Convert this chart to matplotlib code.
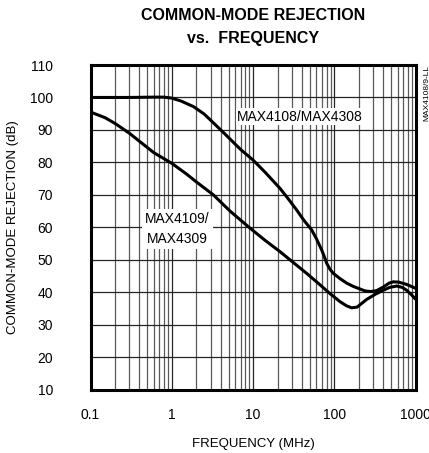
import numpy as np
import matplotlib
matplotlib.use("Agg")
import matplotlib.pyplot as plt
from matplotlib.ticker import FixedLocator, NullFormatter

plt.rcParams['font.family'] = ['Liberation Sans', 'DejaVu Sans']

# MAX4108/MAX4308 curve (MHz, dB)
f_4108 = [0.1, 0.3, 0.6, 0.8, 1.0, 1.3, 1.84, 2.5, 3, 4, 5.2, 7, 10, 14, 21.4, 27, 34.4,
          42, 52.5, 60, 69.8, 75, 80.4, 88, 97, 117, 141.6, 170, 206, 238, 280, 331,
          400, 470, 531, 620, 774, 1000]
cmr_4108 = [100, 100, 100.1, 100.1, 99.8, 98.9, 97.2, 94.9, 93, 90, 87.2, 84, 80.7, 77,
            72, 68.8, 65.3, 62.2, 59.2, 56.5, 53, 51, 48.9, 47.1, 45.8, 44.2, 42.8,
            41.8, 41, 40.4, 40.2, 40.5, 41.6, 42.8, 43.2, 43.1, 42.4, 41.2]

# MAX4109/MAX4309 curve (MHz, dB)
f_4109 = [0.1, 0.15, 0.2, 0.3, 0.4, 0.6, 1, 1.5, 2, 3.24, 5.2, 9.2, 14, 21.4, 30, 45.6,
          65, 88, 117, 141, 163, 190, 250, 320, 398, 480, 583, 680, 774, 880, 1000]
cmr_4109 = [95.5, 93.8, 92, 89, 86.5, 83, 79.7, 76.5, 74, 70, 65, 59.7, 56, 52.5, 49.5,
            45.8, 42.5, 39.6, 37.1, 35.8, 35.2, 35.4, 37.8, 39.4, 40.6, 41.5, 41.9,
            41.5, 40.6, 39.3, 37.8]

x_ticks = [0.1, 1, 10, 100, 1000]
x_tick_labels = ["0.1", "1", "10", "100", "1000"]
y_ticks = list(range(10, 111, 10))

fig = plt.figure(figsize=(4.29, 4.53), dpi=100)
ax = fig.add_axes([0.211, 0.140, 0.758, 0.7165])

ax.set_xscale('log')
ax.set_xlim(0.1, 1000)
ax.set_ylim(10, 110)

minor = [m * 10.0 ** e for e in range(-1, 3) for m in range(2, 10)]
ax.xaxis.set_major_locator(FixedLocator(x_ticks))
ax.xaxis.set_minor_locator(FixedLocator(minor))
ax.xaxis.set_minor_formatter(NullFormatter())
ax.set_xticklabels(x_tick_labels)
ax.set_yticks(y_ticks)

ax.grid(True, which='major', axis='both', color='0.15', lw=0.9)
ax.grid(True, which='minor', axis='x', color='0.35', lw=0.9)
ax.tick_params(which='both', length=0)
ax.tick_params(axis='y', pad=27, labelsize=10)
ax.tick_params(axis='x', pad=13, labelsize=10)
for s in ax.spines.values():
    s.set_linewidth(2.2)

ax.plot(f_4108, cmr_4108, color='black', lw=2.2, solid_capstyle='butt')
ax.plot(f_4109, cmr_4109, color='black', lw=2.2, solid_capstyle='butt')

ax.text(6.34, 94.1, "MAX4108/MAX4308", fontsize=10, ha='left', va='center',
        bbox=dict(facecolor='white', edgecolor='none', pad=1.0))
ax.text(1.175, 59.5, "MAX4109/\nMAX4309", fontsize=10, ha='center', va='center',
        linespacing=1.6, bbox=dict(facecolor='white', edgecolor='none', pad=2.0))

ax.set_xlabel("FREQUENCY (MHz)", fontsize=9.5, labelpad=12)
ax.set_ylabel("COMMON-MODE REJECTION (dB)", fontsize=9.5, labelpad=8)

fig.text(0.589, 0.983, "COMMON-MODE REJECTION\nvs.  FREQUENCY", fontsize=11.5,
         fontweight='bold', ha='center', va='top', linespacing=1.65)
fig.text(0.994, 0.856, "MAX4108/9-LL", fontsize=6, rotation=90, ha='center', va='top')

fig.savefig("out.png", dpi=100)
